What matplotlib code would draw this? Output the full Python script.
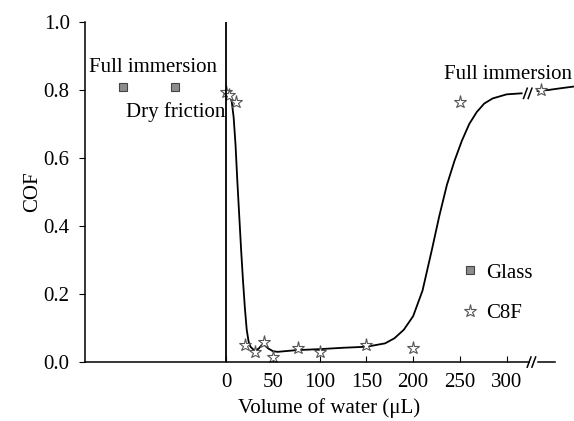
import matplotlib
matplotlib.use("Agg")
from matplotlib import pyplot as plt

plt.rcParams['font.family'] = ['Liberation Serif', 'DejaVu Serif']
plt.rcParams['font.size'] = 15

# glass (left region, no water axis value)
glass_x = [-110, -55]
glass_y = [0.81, 0.81]

# C8F measured points
c8f_x = [0, 3, 10, 20, 31, 40, 50, 77, 100, 150, 200, 250, 337]
c8f_y = [0.795, 0.785, 0.765, 0.05, 0.03, 0.06, 0.015, 0.04, 0.03, 0.05, 0.04, 0.765, 0.80]

# trend curve, before and after the axis break
fit_x1 = [0, 2, 4, 6, 8, 10, 12, 14, 16, 18, 20, 22, 24, 26, 29, 32, 35, 38, 41, 45, 50, 55,
          75, 100, 125, 150, 170, 180, 190, 200, 210, 220, 228, 236, 244, 252, 260, 268, 276,
          285, 300, 316]
fit_y1 = [0.80, 0.795, 0.785, 0.765, 0.72, 0.64, 0.53, 0.43, 0.33, 0.24, 0.16, 0.095, 0.06,
          0.045, 0.037, 0.035, 0.04, 0.05, 0.05, 0.04, 0.032, 0.03, 0.035, 0.038, 0.042, 0.045,
          0.055, 0.07, 0.095, 0.135, 0.21, 0.33, 0.43, 0.52, 0.59, 0.65, 0.70, 0.735, 0.76,
          0.775, 0.787, 0.79]
fit_x2 = [333, 345, 358, 372]
fit_y2 = [0.797, 0.80, 0.805, 0.81]

xticks = [0, 50, 100, 150, 200, 250, 300]
yticks = [0.0, 0.2, 0.4, 0.6, 0.8, 1.0]

fig = plt.figure(figsize=(5.74, 4.21), dpi=100)
ax = fig.add_axes([0.148, 0.140, 0.852, 0.808])

ax.plot(fit_x1, fit_y1, color='k', lw=1.3, clip_on=False)
ax.plot(fit_x2, fit_y2, color='k', lw=1.3, clip_on=False)

ax.plot(glass_x, glass_y, ls='none', marker='s', ms=6, mfc='#8c8c8c', mec='#444444',
        mew=0.8, label='Glass')
ax.plot(c8f_x, c8f_y, ls='none', marker='*', ms=9.5, mfc='white', mec='#555555',
        mew=0.8, label='C8F', clip_on=False)

ax.axvline(0, color='k', lw=1.3)

# break marks on curve and axis
for bx in [320, 325]:
    ax.plot([bx - 2, bx + 2], [0.775, 0.805], color='k', lw=1.1)
    ax.plot([bx + 2, bx + 6], [-0.015, 0.015], color='k', lw=1.1, clip_on=False)
ax.plot([333, 352], [0, 0], color='k', lw=1.1, clip_on=False)

ax.set_xlim(-151, 372)
ax.set_ylim(0, 1.0)
ax.spines['top'].set_visible(False)
ax.spines['right'].set_visible(False)
ax.spines['bottom'].set_bounds(-151, 324)
ax.spines['left'].set_linewidth(1.1)
ax.spines['bottom'].set_linewidth(1.1)

ax.set_xticks(xticks)
ax.set_yticks(yticks)
ax.set_yticklabels(['%.1f' % v for v in yticks])
ax.tick_params(axis='x', direction='in', length=4, pad=8)
ax.tick_params(axis='y', direction='out', length=4, pad=7)

ax.set_xlabel('Volume of water (μL)', labelpad=4)
ax.set_ylabel('COF')
ax.yaxis.set_label_coords(-0.088, 0.5)

ax.text(-147, 0.865, 'Full immersion', ha='left', va='center')
ax.text(-1, 0.735, 'Dry friction', ha='right', va='center')
ax.text(370, 0.845, 'Full immersion', ha='right', va='center')

ax.legend(frameon=False, loc='center left', bbox_to_anchor=(0.800, 0.304),
          bbox_transform=fig.transFigure, handlelength=1.0, handletextpad=0.3,
          labelspacing=1.0, borderpad=0, borderaxespad=0)

plt.savefig('out.png', dpi=100)
